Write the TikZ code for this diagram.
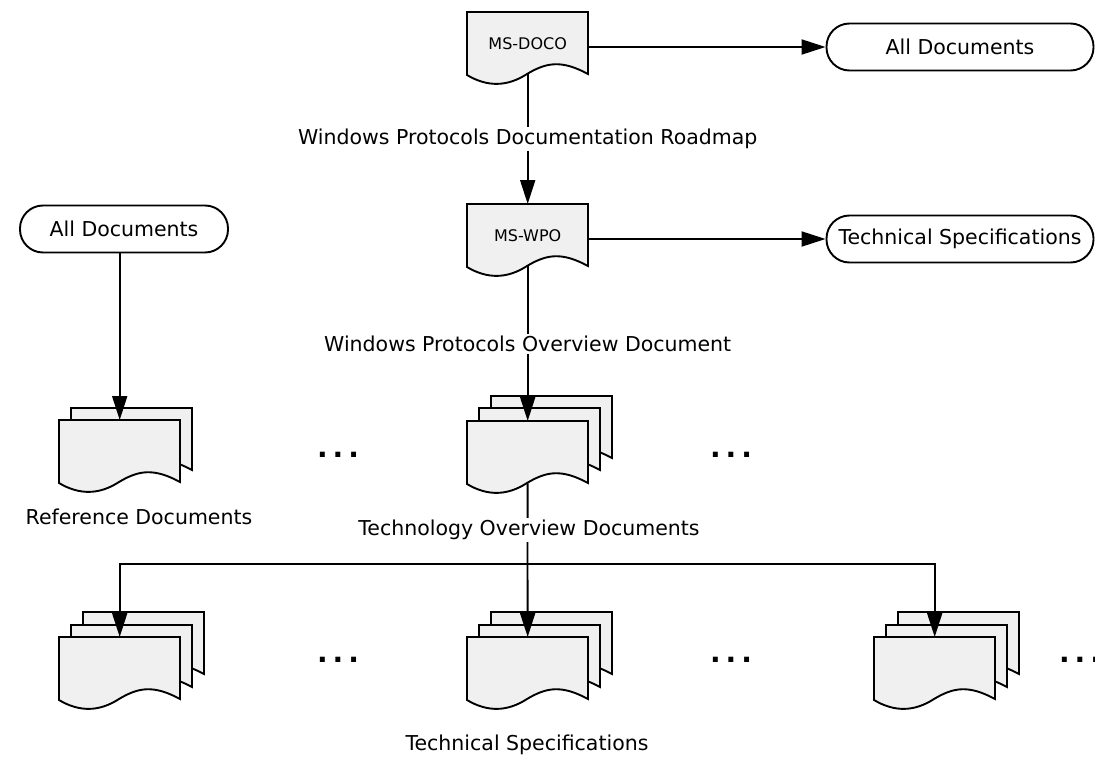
\documentclass[tikz,border=0pt]{standalone}
\usepackage{fontspec}
\setmainfont{DejaVu Sans}
\usetikzlibrary{arrows.meta}
\definecolor{sheetgray}{rgb}{0.94, 0.94, 0.94}
\tikzset{sheet/.style = {draw, line width = 1.9pt, fill = sheetgray}}
\tikzset{docbox/.style = {anchor = north west, minimum width = 121pt, minimum height = 62pt, inner sep = 0pt, font = \fontsize{16}{19}\selectfont}}
\tikzset{term/.style = {draw, line width = 1.9pt, fill = white, rounded corners = 23pt, minimum height = 47pt, font = \fontsize{20.5}{24}\selectfont}}
\tikzset{flow/.style = {line width = 1.9pt, -{Triangle[length = 24pt, width = 15pt]}}}
\tikzset{caption/.style = {fill = white, inner sep = 2pt, font = \fontsize{20.5}{24}\selectfont}}
\tikzset{dotrow/.style = {inner sep = 0pt, font = \fontsize{28}{30}\selectfont\bfseries}}
\newcommand{\docsheet}[1]{\draw [sheet, shift = {#1}] (0, 0) -- (121, 0) -- (121, 62) .. controls (95, 48) and (80, 50) .. (60, 62) .. controls (40, 75) and (20, 75) .. (0, 63) -- cycle;}

\begin{document}
\begin{tikzpicture}[x = 1pt, y = -1pt]
      \useasboundingbox (0, 0) rectangle (1095, 760);
      \docsheet{(467, 12)}
      \node [docbox] (doco) at (467, 12) {MS-DOCO};
      \docsheet{(467, 204)}
      \node [docbox] (wpo) at (467, 204) {MS-WPO};
      \docsheet{(71, 408)}
      \docsheet{(59, 420)}
      \node [docbox] (refs) at (59, 420) {};
      \docsheet{(491, 396)}
      \docsheet{(479, 408)}
      \docsheet{(467, 421)}
      \node [docbox] (tech) at (467, 421) {};
      \docsheet{(83, 612)}
      \docsheet{(71, 625)}
      \docsheet{(59, 637)}
      \node [docbox] (specA) at (59, 637) {};
      \docsheet{(491, 612)}
      \docsheet{(479, 625)}
      \docsheet{(467, 637)}
      \node [docbox] (specB) at (467, 637) {};
      \docsheet{(898, 612)}
      \docsheet{(886, 625)}
      \docsheet{(874, 637)}
      \node [docbox] (specC) at (874, 637) {};
      \node [term, minimum width = 267pt] (alltop) at (960, 47) {All Documents};
      \node [term, minimum width = 267pt] (techtop) at (960, 239) {Technical Specifications};
      \node [term, minimum width = 208pt] (allleft) at (124, 229) {All Documents};
      \coordinate (bus) at (527.5, 564);
      \draw [flow] (doco.east |- alltop.west) -- (alltop.west);
      \draw [flow] (doco) -- node [caption] (roadmap) {Windows Protocols Documentation Roadmap} (wpo);
      \draw [flow] (wpo.east |- techtop.west) -- (techtop.west);
      \draw [flow] (wpo) -- node [caption] (overview) {Windows Protocols Overview Document} (tech);
      \draw [flow] (allleft.south -| refs.north) -- (refs.north);
      \draw [line width = 1.9pt] (tech) -- (bus);
      \draw [flow] (bus) -| (specA.north);
      \draw [flow] (bus) -- (specB.north);
      \draw [flow] (bus) -| (specC.north);
      \node [caption] (reflabel) at (139, 517) {Reference Documents};
      \node [caption] (techlabel) at (529, 530) {Technology Overview Documents};
      \node [caption] (speclabel) at (527, 745) {Technical Specifications};
      \node [dotrow] (dotsA) at (338, 455) {.\hspace{5pt}.\hspace{5pt}.};
      \node [dotrow] (dotsB) at (731, 455) {.\hspace{5pt}.\hspace{5pt}.};
      \node [dotrow] (dotsC) at (338, 660) {.\hspace{5pt}.\hspace{5pt}.};
      \node [dotrow] (dotsD) at (731, 660) {.\hspace{5pt}.\hspace{5pt}.};
      \node [dotrow] (dotsE) at (1080, 660) {.\hspace{5pt}.\hspace{5pt}.};
    \end{tikzpicture}
\end{document}
